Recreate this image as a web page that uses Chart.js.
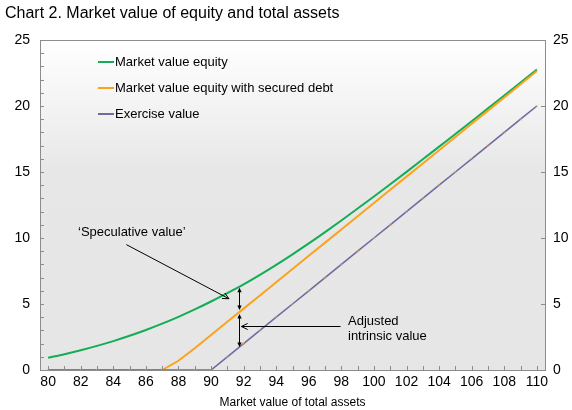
<!DOCTYPE html>
<html>
<head>
<meta charset="utf-8">
<script src="https://cdn.jsdelivr.net/npm/chart.js@4.4.1/dist/chart.umd.min.js"></script>
<style>
  html, body { margin: 0; padding: 0; background: #ffffff; }
  #wrap { position: relative; width: 572px; height: 410px; }
</style>
</head>
<body>
<div id="wrap"><canvas id="chart" width="572" height="410"></canvas></div>
<script>
// x categories: market value of total assets
const assetValues = [80, 81, 82, 83, 84, 85, 86, 87, 88, 89, 90, 91, 92, 93, 94, 95, 96, 97, 98, 99,
    100, 101, 102, 103, 104, 105, 106, 107, 108, 109, 110];

// series
const equityValue = [0.93, 1.20, 1.50, 1.83, 2.19, 2.59, 3.03, 3.51, 4.03, 4.59, 5.19, 5.82, 6.48,
    7.20, 7.96, 8.76, 9.59, 10.45, 11.33, 12.23, 13.14, 14.07, 15.01, 15.96, 16.92, 17.88, 18.85,
    19.82, 20.80, 21.78, 22.76];
const securedDebtEquity = [0, 0, 0, 0, 0, 0, 0, 0, 0.7, 1.65, 2.65, 3.65, 4.65, 5.65, 6.65, 7.65,
    8.65, 9.65, 10.65, 11.65, 12.65, 13.65, 14.65, 15.65, 16.65, 17.65, 18.65, 19.65, 20.65, 21.65, 22.65];
const exerciseValue = [0, 0, 0, 0, 0, 0, 0, 0, 0, 0, 0, 1, 2, 3, 4, 5, 6, 7, 8, 9, 10, 11, 12, 13,
    14, 15, 16, 17, 18, 19, 20];

const seriesNames = ['Market value equity', 'Market value equity with secured debt', 'Exercise value'];
const seriesColors = ['#12ad54', '#fba31c', '#6f6aa0'];

// axis range / ticks
const yMin = 0, yMax = 25, yStep = 5;

const FONT = '"Liberation Sans", Arial, sans-serif';
const chartTitle = 'Chart 2. Market value of equity and total assets';
const xTitle = 'Market value of total assets';
const specLabel = '\u2018Speculative value\u2019';
const intrinsicLabel = ['Adjusted', 'intrinsic value'];

// value of a series at a fractional category index
const valueAt = (series, idx) => {
    const i = Math.floor(idx), f = idx - i;
    if (i >= series.length - 1) return series[series.length - 1];
    return series[i] + (series[i + 1] - series[i]) * f;
};

function arrowHead(ctx, x, y, angle, size, filled) {
    ctx.beginPath();
    ctx.moveTo(x - size * Math.cos(angle - 0.45), y - size * Math.sin(angle - 0.45));
    ctx.lineTo(x, y);
    ctx.lineTo(x - size * Math.cos(angle + 0.45), y - size * Math.sin(angle + 0.45));
    if (filled) { ctx.closePath(); ctx.fill(); } else ctx.stroke();
}

// plot background, frame and inward tick marks
const framePlugin = {
    id: 'frame',
    beforeDatasetsDraw(chart) {
        const { ctx, chartArea: a } = chart;
        ctx.save();
        const g = ctx.createLinearGradient(0, a.top, 0, a.bottom);
        g.addColorStop(0, '#ffffff');
        g.addColorStop(0.4, '#e7e7e7');
        g.addColorStop(1, '#e6e6e6');
        ctx.fillStyle = g;
        ctx.fillRect(a.left, a.top, a.right - a.left, a.bottom - a.top);
        ctx.restore();
    },
    afterDatasetsDraw(chart) {
        const { ctx, chartArea: a, scales } = chart;
        ctx.save();
        ctx.strokeStyle = '#8c8c8c';
        ctx.lineWidth = 1;
        ctx.strokeRect(Math.round(a.left) + 0.5, Math.round(a.top) + 0.5,
            Math.round(a.right - a.left), Math.round(a.bottom - a.top));
        ctx.beginPath();
        // left axis: tick every unit
        for (let v = yMin; v <= yMax; v++) {
            const y = Math.round(scales.y.getPixelForValue(v)) + 0.5;
            ctx.moveTo(a.left, y); ctx.lineTo(a.left + 4, y);
        }
        // right axis: major ticks only
        for (let v = yMin; v <= yMax; v += yStep) {
            const y = Math.round(scales.y.getPixelForValue(v)) + 0.5;
            ctx.moveTo(a.right, y); ctx.lineTo(a.right - 4, y);
        }
        // x axis: tick at each category
        assetValues.forEach((_, i) => {
            const x = Math.round(scales.x.getPixelForValue(i)) + 0.5;
            ctx.moveTo(x, a.bottom); ctx.lineTo(x, a.bottom - 4);
        });
        ctx.stroke();
        ctx.restore();
    },
    afterDraw(chart) {
        const { ctx, scales } = chart;
        const px = (i, v) => [scales.x.getPixelForValue(i), scales.y.getPixelForValue(v)];
        ctx.save();

        // title
        ctx.fillStyle = '#000';
        ctx.font = '16px ' + FONT;
        ctx.textBaseline = 'middle';
        ctx.fillText(chartTitle, 5, 14);

        // legend
        ctx.font = '13px ' + FONT;
        seriesNames.forEach((name, k) => {
            const y = 62 + k * 26;
            ctx.strokeStyle = seriesColors[k];
            ctx.lineWidth = 2;
            ctx.beginPath(); ctx.moveTo(98, y); ctx.lineTo(114, y); ctx.stroke();
            ctx.fillStyle = '#000';
            ctx.fillText(name, 115, y);
        });

        // 'Speculative value' label with pointer to the equity curve
        ctx.fillText(specLabel, 78, 232);
        ctx.strokeStyle = '#000';
        ctx.lineWidth = 1;
        const [sx, sy] = px(4.8, 9.5);
        const [ex, ey] = px(11.1, 5.4);
        ctx.beginPath(); ctx.moveTo(sx, sy); ctx.lineTo(ex, ey); ctx.stroke();
        arrowHead(ctx, ex, ey, Math.atan2(ey - sy, ex - sx), 7, false);

        // double-headed gaps between the curves
        const gi = 11.74;
        const ax = Math.round(scales.x.getPixelForValue(gi)) + 0.5;
        const yG = scales.y.getPixelForValue(valueAt(equityValue, gi));
        const yO = scales.y.getPixelForValue(valueAt(securedDebtEquity, gi));
        const yP = scales.y.getPixelForValue(valueAt(exerciseValue, gi));
        ctx.fillStyle = '#000';
        [[yG + 1, yO - 2], [yO + 2, yP]].forEach(([t, b]) => {
            ctx.beginPath(); ctx.moveTo(ax, t + 2); ctx.lineTo(ax, b - 2); ctx.stroke();
            arrowHead(ctx, ax, t, -Math.PI / 2, 5, true);
            arrowHead(ctx, ax, b, Math.PI / 2, 5, true);
        });

        // 'Adjusted intrinsic value' label with pointer
        ctx.fillText(intrinsicLabel[0], 348, 321);
        ctx.fillText(intrinsicLabel[1], 348, 336);
        const [bx, by] = px(17.95, 3.35);
        const [cx] = px(11.86, 3.35);
        const yy = Math.round(by) + 0.5;
        ctx.beginPath(); ctx.moveTo(bx, yy); ctx.lineTo(cx, yy); ctx.stroke();
        arrowHead(ctx, cx, yy, Math.PI, 7, false);

        ctx.restore();
    }
};

const lineSet = (k, data, extra) => Object.assign({
    label: seriesNames[k],
    data: data,
    borderColor: seriesColors[k],
    backgroundColor: seriesColors[k],
    borderWidth: 2,
    pointRadius: 0,
    tension: 0,
    fill: false,
}, extra);

new Chart(document.getElementById('chart'), {
    type: 'line',
    data: {
        labels: assetValues,
        datasets: [
            lineSet(0, equityValue, { order: 3, cubicInterpolationMode: 'monotone' }),
            lineSet(1, securedDebtEquity, { order: 2 }),
            lineSet(2, exerciseValue, {
                order: 1,
                borderWidth: 1.6,
                pointRadius: 2,
                pointStyle: 'crossRot',
                pointBorderColor: 'rgba(245,170,90,0.45)',
                pointBorderWidth: 1,
            }),
        ],
    },
    options: {
        responsive: false,
        animation: false,
        events: [],
        layout: { padding: { top: 40, left: 0, right: 0, bottom: 0 } },
        plugins: { legend: { display: false }, tooltip: { enabled: false } },
        scales: {
            x: {
                type: 'category',
                offset: true,
                grid: { display: false, drawTicks: false },
                border: { display: false },
                ticks: {
                    autoSkip: false,
                    maxRotation: 0,
                    padding: 4,
                    color: '#000',
                    font: { family: FONT, size: 14 },
                    callback: (v, i) => (assetValues[i] % 2 === 0 ? assetValues[i] : ''),
                },
                title: {
                    display: true,
                    text: xTitle,
                    color: '#000',
                    font: { family: FONT, size: 12 },
                    padding: { top: 1, bottom: 0 },
                },
                afterFit: s => { s.height = 40; },
            },
            y: {
                position: 'left',
                min: yMin, max: yMax,
                grid: { display: false, drawTicks: false },
                border: { display: false },
                ticks: { stepSize: yStep, padding: 10, color: '#000', font: { family: FONT, size: 14 } },
                afterFit: s => { s.width = 40; },
            },
            y2: {
                position: 'right',
                min: yMin, max: yMax,
                grid: { display: false, drawTicks: false },
                border: { display: false },
                ticks: { stepSize: yStep, padding: 8, color: '#000', font: { family: FONT, size: 14 } },
                afterFit: s => { s.width = 27; },
            },
        },
    },
    plugins: [framePlugin],
});
</script>
</body>
</html>
